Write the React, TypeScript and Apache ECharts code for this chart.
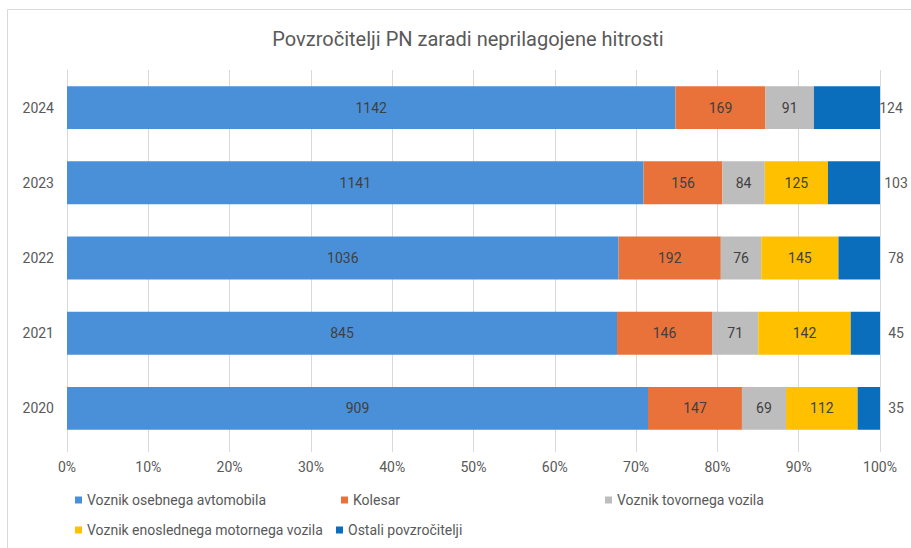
import React, { useEffect, useRef } from "react";
import * as echarts from "echarts";

const title = "Povzročitelji PN zaradi neprilagojene hitrosti";
const years = ["2020", "2021", "2022", "2023", "2024"];
const seriesNames = [
  "Voznik osebnega avtomobila",
  "Kolesar",
  "Voznik tovornega vozila",
  "Voznik enoslednega motornega vozila",
  "Ostali povzročitelji",
];
const osebni = [909, 845, 1036, 1141, 1142];
const kolesar = [147, 146, 192, 156, 169];
const tovorni = [69, 71, 76, 84, 91];
const enosledni: (number | null)[] = [112, 142, 145, 125, null];
const ostali = [35, 45, 78, 103, 124];
const xTicks = [0, 10, 20, 30, 40, 50, 60, 70, 80, 90, 100];

const colors = ["#4A90D9", "#E8723A", "#BDBDBD", "#FFC000", "#0A6EBD"];

export default function App() {
  const ref = useRef<HTMLDivElement>(null);
  useEffect(() => {
    if (!ref.current) return;
    const chart = echarts.init(ref.current, null, { renderer: "svg" });
    const all = [osebni, kolesar, tovorni, enosledni, ostali];
    const totals = years.map((_, i) =>
      all.reduce((s, arr) => s + ((arr[i] as number) || 0), 0)
    );
    const font = "Roboto";
    const series = all.map((arr, si) => ({
      name: seriesNames[si],
      type: "bar",
      stack: "total",
      barWidth: "57%",
      itemStyle: { color: colors[si] },
      label:
        si === 4
          ? {
              show: true,
              position: "right",
              distance: 16,
              align: "center",
              color: "#595959",
              fontSize: 14,
              fontFamily: font,
              formatter: (p: any) => String(p.data.raw),
            }
          : {
              show: true,
              position: "inside",
              color: "#404040",
              fontSize: 14,
              fontFamily: font,
              formatter: (p: any) => (p.data.raw == null ? "" : String(p.data.raw)),
            },
      data: arr.map((v, i) => {
        const d: any = {
          value: v == null ? null : ((v as number) / totals[i]) * 100,
          raw: v,
        };
        if (si === 4 && years[i] === "2024") d.label = { distance: 11 };
        return d;
      }),
    }));
    const legendPos = [
      { left: 75, top: 493 },
      { left: 341, top: 493 },
      { left: 605, top: 493 },
      { left: 75, top: 523 },
      { left: 336, top: 523 },
    ];
    const legend = seriesNames.map((n, i) => ({
      data: [n],
      left: legendPos[i].left,
      top: legendPos[i].top,
      padding: 0,
      icon: "rect",
      itemWidth: 7,
      itemHeight: 7,
      selectedMode: false,
      textStyle: { fontSize: 14, color: "#595959", fontFamily: font },
    }));
    chart.setOption({
      animation: false,
      backgroundColor: "#ffffff",
      textStyle: { fontFamily: font },
      title: {
        text: title,
        left: 463,
        textAlign: "center",
        top: 24,
        textStyle: {
          fontSize: 20,
          fontWeight: "normal",
          color: "#595959",
          fontFamily: font,
        },
      },
      graphic: [
        {
          type: "rect",
          silent: true,
          z: -10,
          shape: { x: 7.5, y: 9.5, width: 920, height: 560 },
          style: { fill: "none", stroke: "#d9d9d9", lineWidth: 1 },
        },
      ],
      legend,
      grid: { left: 67, right: 31, top: 70, bottom: 102, containLabel: false },
      xAxis: {
        type: "value",
        min: 0,
        max: 100,
        interval: 10,
        axisLine: { show: false },
        axisTick: { show: true, length: 6, lineStyle: { color: "#d9d9d9" } },
        splitLine: { lineStyle: { color: "#d9d9d9" } },
        axisLabel: {
          margin: 14,
          fontSize: 14,
          color: "#595959",
          fontFamily: font,
          formatter: (v: number) => (xTicks.includes(v) ? v + "%" : ""),
        },
      },
      yAxis: {
        type: "category",
        data: years,
        axisTick: { show: false },
        axisLine: { lineStyle: { color: "#d9d9d9" } },
        axisLabel: { margin: 13, fontSize: 14, color: "#595959", fontFamily: font },
      },
      series,
    });
    return () => chart.dispose();
  }, []);
  return (
    <div
      ref={ref}
      style={{ position: "fixed", left: 0, top: 0, width: 911, height: 548, background: "#fff" }}
    />
  );
}
